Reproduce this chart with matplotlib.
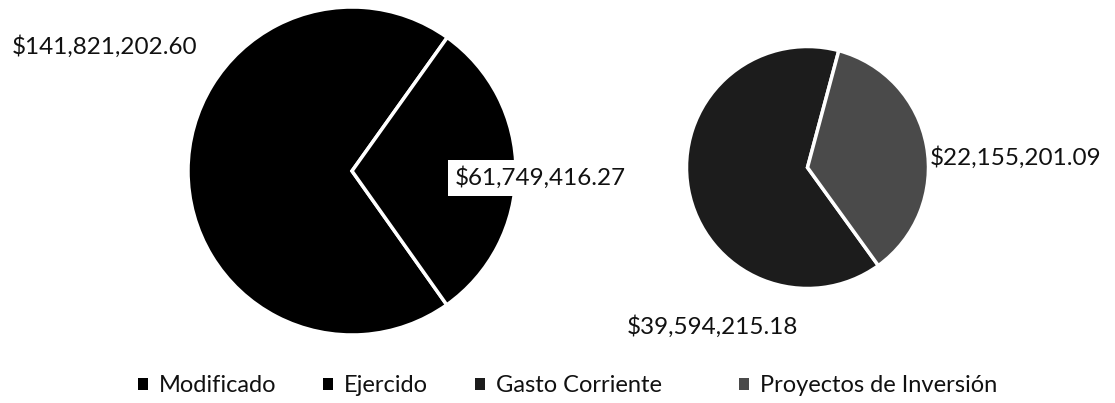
import matplotlib
matplotlib.use("Agg")
import matplotlib.pyplot as plt

# ---- data ----
left_labels = ["Modificado", "Ejercido"]
left_values = [141821202.60, 61749416.27]
right_labels = ["Gasto Corriente", "Proyectos de Inversión"]
right_values = [39594215.18, 22155201.09]

left_colors = ["#000000", "#000000"]
right_colors = ["#1c1c1c", "#4a4a4a"]

W, H = 1115, 403
fig = plt.figure(figsize=(W / 100, H / 100), dpi=100)
fig.patch.set_facecolor("white")


def fx(x):
    return x / W


def fy(y):
    return 1 - y / H


def pie_axes(cx, cy, r):
    ax = fig.add_axes([fx(cx - r), fy(cy + r), 2 * r / W, 2 * r / H])
    ax.axis("off")
    return ax


ax1 = pie_axes(352, 171, 164)
w1, _ = ax1.pie(left_values, colors=left_colors, startangle=54.5, counterclock=True,
                radius=1, wedgeprops=dict(edgecolor="white", linewidth=2.5))
ax1.set_xlim(-1.0, 1.0)
ax1.set_ylim(-1.0, 1.0)
ax1.set_aspect("equal")

ax2 = pie_axes(807.5, 167.5, 121)
w2, _ = ax2.pie(right_values, colors=right_colors, startangle=75, counterclock=True,
                radius=1, wedgeprops=dict(edgecolor="white", linewidth=2.5))
ax2.set_xlim(-1.0, 1.0)
ax2.set_ylim(-1.0, 1.0)
ax2.set_aspect("equal")

lab_font = dict(family=["Lato", "DejaVu Sans"], fontsize=17.5, color="#111111")


def money(v):
    return "${:,.2f}".format(v)


fig.text(fx(12), fy(47), money(left_values[0]), ha="left", va="center", **lab_font)
fig.text(fx(455), fy(178), money(left_values[1]), ha="left", va="center",
         bbox=dict(facecolor="white", edgecolor="none", pad=5), **lab_font)
fig.text(fx(930), fy(158), money(right_values[1]), ha="left", va="center", **lab_font)
fig.text(fx(627), fy(327), money(right_values[0]), ha="left", va="center", **lab_font)

handles = list(w1) + list(w2)
labels = left_labels + right_labels
marker_x = [138, 323, 475, 739]
for h, l, mx in zip(handles, labels, marker_x):
    leg = fig.legend([h], [l], loc="center left", bbox_to_anchor=(fx(mx), fy(386)),
                     frameon=False, handlelength=0.42, handleheight=0.42,
                     handletextpad=0.45, borderpad=0, borderaxespad=0,
                     prop=dict(family=["Lato", "DejaVu Sans"], size=17))
    for t in leg.get_texts():
        t.set_color("#111111")
    for p in leg.legend_handles:
        p.set_edgecolor("none")

fig.savefig("out.png", dpi=100, facecolor="white")
